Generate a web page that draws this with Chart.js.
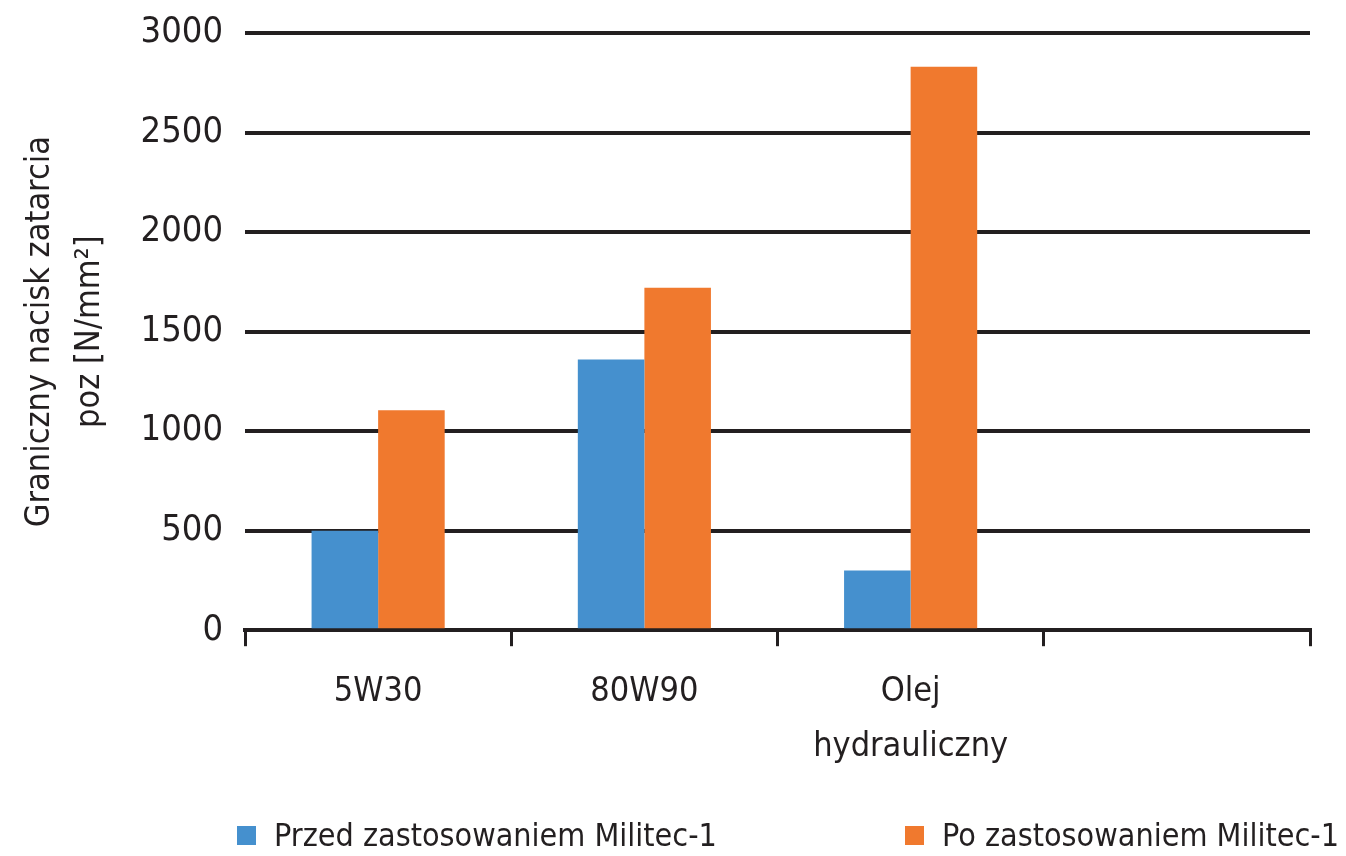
<!DOCTYPE html>
<html>
<head>
<meta charset="utf-8">
<script src="https://cdn.jsdelivr.net/npm/chart.js@4"></script>
<style>
  html, body { margin: 0; padding: 0; background: #fff; }
  #wrap { position: relative; width: 1346px; height: 856px; }
  #legend { position: absolute; left: 0; top: 813px; width: 1346px; height: 44px;
            font-family: 'DejaVu Sans Condensed', 'Liberation Sans Narrow', sans-serif;
            font-size: 32px; color: #231f20; }
  .item { position: absolute; top: 0; white-space: nowrap; line-height: 44px; }
  .box { display: inline-block; width: 19px; height: 19px; margin-right: 18px; vertical-align: 1px; }
</style>
</head>
<body>
<div id="wrap">
  <canvas id="act" width="1346" height="856"></canvas>
  <div id="legend"></div>
</div>
<script>
const categories = ['5W30', '80W90', ['Olej', 'hydrauliczny'], ''];
const przed = [500, 1360, 300, null];
const po = [1105, 1720, 2830, null];
const yTicks = [0, 500, 1000, 1500, 2000, 2500, 3000];
const seriesNames = ['Przed zastosowaniem Militec-1', 'Po zastosowaniem Militec-1'];
const seriesColors = ['#4590ce', '#f0792e'];

const FONT = "'DejaVu Sans Condensed', 'Liberation Sans Narrow', sans-serif";
const TEXT = '#231f20';

const ctx = document.getElementById('act').getContext('2d');

const act = new Chart(ctx, {
    type: 'bar',
    data: {
        labels: categories,
        datasets: [
            { label: seriesNames[0], data: przed, backgroundColor: seriesColors[0] },
            { label: seriesNames[1], data: po, backgroundColor: seriesColors[1] }
        ]
    },
    options: {
        responsive: false,
        animation: false,
        layout: { padding: { left: 16, right: 36, top: 33, bottom: 63 } },
        datasets: {
            bar: { barPercentage: 1.0, categoryPercentage: 0.5 }
        },
        plugins: {
            tooltip: { enabled: false },
            legend: { display: false }
        },
        scales: {
            x: {
                grid: {
                    offset: true,
                    drawOnChartArea: false,
                    drawTicks: true,
                    tickLength: 16,
                    color: '#231f20',
                    lineWidth: 3
                },
                border: { display: true, color: '#231f20', width: 4 },
                ticks: {
                    font: { family: FONT, size: 34, lineHeight: 1.6 },
                    color: TEXT,
                    padding: 19,
                    maxRotation: 0
                }
            },
            y: {
                min: 0,
                max: 3000,
                afterBuildTicks: axis => { axis.ticks = yTicks.map(v => ({ value: v })); },
                // tick padding would otherwise push the plot top down
                afterFit: axis => { axis.paddingTop = 0; axis.paddingBottom = 0; },
                grid: {
                    color: '#231f20',
                    lineWidth: 4,
                    drawTicks: false
                },
                border: { display: false },
                ticks: {
                    font: { family: FONT, size: 36 },
                    color: TEXT,
                    padding: 22,
                    callback: v => String(v)
                },
                title: {
                    display: true,
                    text: ['Graniczny nacisk zatarcia', 'poz [N/mm²]'],
                    font: { family: FONT, size: 34, lineHeight: 1.45 },
                    color: TEXT,
                    padding: { top: 0, bottom: 4 }
                }
            }
        }
    }
});

// legend as html text under the chart
const legendEl = document.getElementById('legend');
const legendX = [237, 905];
seriesNames.forEach((name, i) => {
    const it = document.createElement('div');
    it.className = 'item';
    it.style.left = legendX[i] + 'px';
    it.innerHTML = '<span class="box" style="background:' + seriesColors[i] + '"></span>' + name;
    legendEl.appendChild(it);
});
</script>
</body>
</html>
